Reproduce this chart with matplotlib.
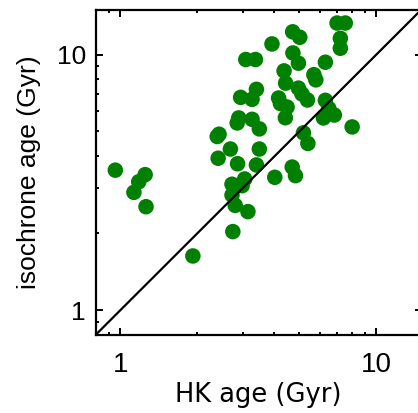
import matplotlib
matplotlib.use("Agg")
import matplotlib.pyplot as plt
import numpy as np

hk_age = [7.02, 7.56, 4.71, 5.02, 3.91, 7.23, 7.23, 3.09, 3.37, 4.72,
          4.96, 6.32, 4.36, 5.70, 5.80, 4.42, 4.96, 3.40, 2.95, 3.27,
          4.15, 5.12, 5.38, 4.22, 4.48, 6.32, 6.52, 6.21, 6.85, 4.41,
          2.90, 2.86, 3.27, 3.49, 8.04, 2.43, 2.39, 5.19, 5.40, 2.69,
          3.49, 2.41, 2.87, 3.40, 4.69, 4.83, 4.01, 0.956, 1.25, 1.18,
          1.13, 1.26, 3.06, 2.73, 2.99, 2.73, 2.81, 3.15, 2.75, 1.92]
iso_age = [13.28, 13.28, 12.27, 11.68, 11.0, 11.57, 10.58, 9.56, 9.56, 10.14,
           9.25, 9.33, 8.63, 8.34, 7.96, 7.73, 7.39, 7.31, 6.80, 6.68,
           6.76, 7.01, 6.64, 6.43, 6.23, 6.62, 6.15, 5.65, 5.80, 5.66,
           5.65, 5.40, 5.58, 5.12, 5.21, 4.88, 4.78, 4.94, 4.49, 4.27,
           4.27, 3.93, 3.74, 3.70, 3.63, 3.36, 3.31, 3.53, 3.39, 3.18,
           2.89, 2.54, 3.26, 3.11, 3.07, 2.82, 2.57, 2.43, 2.03, 1.63]

x_label = "HK age (Gyr)"
y_label = "isochrone age (Gyr)"
lims = [0.8, 15.0]

plt.rcParams['font.family'] = ['Liberation Sans', 'DejaVu Sans']

fig = plt.figure(figsize=(4.18, 4.13), dpi=100)
ax = fig.add_axes([95.5/418, 78/413, 326/418, 325.5/413])

ax.scatter(hk_age, iso_age, s=125, color='#008000', edgecolors='none', zorder=2)
ax.plot(lims, lims, color='black', lw=1.6, zorder=3)

ax.set_xscale('log')
ax.set_yscale('log')
ax.set_xlim(lims)
ax.set_ylim(lims)

ax.set_xticks([1, 10])
ax.set_xticklabels(['1', '10'])
ax.set_yticks([1, 10])
ax.set_yticklabels(['1', '10'])

for s in ax.spines.values():
    s.set_linewidth(1.6)

ax.tick_params(which='both', direction='in', top=True, right=True, width=1.4)
ax.tick_params(which='major', length=5)
ax.tick_params(which='minor', length=2.5)
ax.tick_params(axis='x', which='major', pad=12, labelsize=20)
ax.tick_params(axis='y', which='major', pad=7, labelsize=19)

ax.set_xlabel(x_label, fontsize=18.5, labelpad=3, family=['DejaVu Sans'])
ax.set_ylabel(y_label, fontsize=19, labelpad=11)

fig.savefig("out.png", dpi=100)
